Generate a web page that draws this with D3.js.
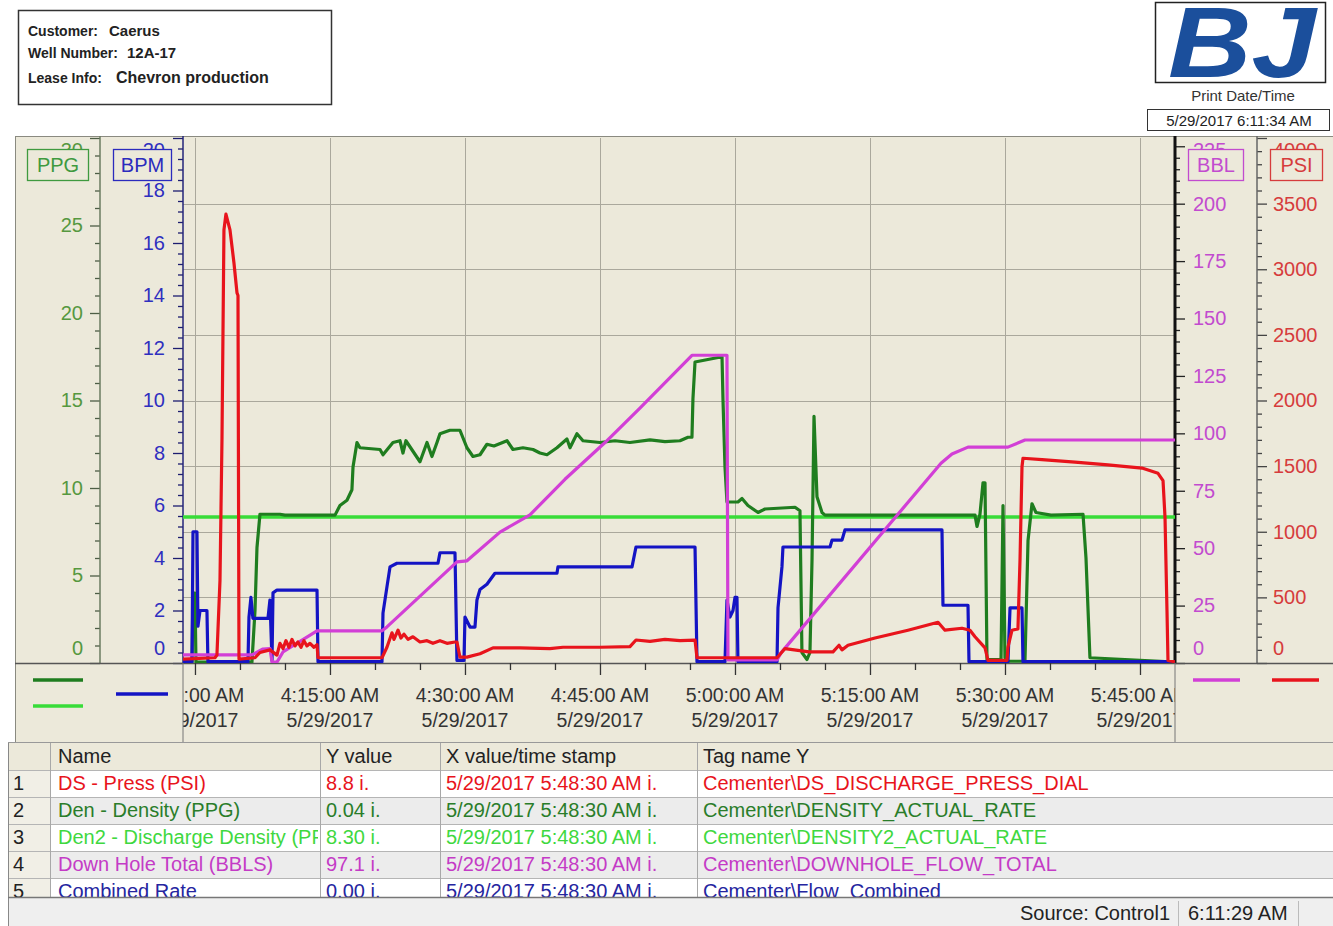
<!DOCTYPE html>
<html lang="en">
<head>
<meta charset="UTF-8">
<title>Cementing job chart - Caerus 12A-17</title>
<script src="https://d3js.org/d3.v7.min.js"></script>
<style>
  body { margin: 0; background: #fff; }
  svg text { font-family: "Liberation Sans", Arial, sans-serif; }
</style>
</head>
<body>
<div id="chart"></div>
<script>
// header info
var infoLabels = ["Customer:", "Well Number:", "Lease Info:"];
var infoValues = ["Caerus", "12A-17", "Chevron production"];
var printStamp = "5/29/2017 6:11:34 AM";

// every series point is [minutes after 4:00:00 AM on 5/29/2017, value]
var den2Pts = [[-1.33, 8.35], [108.89, 8.35]];

var denPts = [[-1.33,0.05],[-0.33,0.05],[-0.22,4.0],[0,4.0],[0.11,0.05],[6.33,0.05],[6.67,3.0],[6.89,6.6],[7.22,8.5],
  [9.44,8.5],[10.0,8.45],[15.56,8.45],[16.11,9.0],[16.89,9.3],[17.44,9.9],[17.56,11.2],[18.0,12.6],[18.33,12.3],
  [20.56,12.2],[20.89,11.9],[22.0,12.6],[22.78,12.7],[23.11,12.0],[23.44,12.7],[24.22,12.1],[25.0,11.5],[25.78,12.6],
  [26.33,11.8],[26.89,12.6],[27.22,13.1],[28.33,13.3],[29.44,13.3],[30.22,12.3],[30.89,11.8],[31.67,11.9],[32.44,12.5],
  [33.22,12.4],[34.67,12.7],[35.33,12.2],[36.44,12.3],[37.56,12.2],[38.33,12.0],[39.11,11.9],[40.22,12.3],[41.33,12.8],
  [41.67,12.3],[42.44,13.1],[43.11,12.7],[45.0,12.6],[46.67,12.7],[48.33,12.6],[50.56,12.75],[52.22,12.65],[53.89,12.7],
  [54.78,12.9],[55.22,12.9],[55.33,15.1],[55.56,17.2],[58.56,17.5],[58.67,15.0],[58.89,11.2],[59.11,9.2],[60.33,9.2],
  [60.78,9.4],[61.44,9.0],[62.56,8.6],[63.33,8.8],[66.67,8.9],[67.22,8.7],[67.44,0.6],[68.0,0.2],[68.33,0.6],[68.56,5.9],
  [68.78,14.1],[69.11,9.5],[69.67,8.6],[70.0,8.45],[86.67,8.45],[86.89,7.8],[87.22,8.5],[87.56,10.3],[87.78,10.3],
  [88.0,0.2],[89.56,0.2],[89.78,9.0],[90.0,0.3],[90.33,0.1],[92.22,0.1],[92.56,7.0],[93.0,9.1],[93.44,8.6],[95.11,8.45],
  [98.67,8.5],[99.0,6.0],[99.44,0.3],[108.89,0.05]];

var ratePts = [[-1.33,0.05],[-0.33,0.05],[-0.22,5.0],[0.22,5.0],[0.33,1.4],[0.56,2.0],[1.33,2.0],[1.44,0.05],[5.89,0.05],
  [6.0,1.75],[6.22,2.5],[6.44,1.7],[8.11,1.7],[8.33,2.4],[8.56,0.1],[8.67,2.67],[9.11,2.78],[13.56,2.78],[13.67,0.05],
  [20.78,0.05],[20.89,1.9],[21.33,2.9],[21.67,3.66],[22.44,3.8],[27.0,3.8],[27.22,4.2],[28.89,4.2],[29.11,0.1],[29.89,0.1],
  [30.0,1.75],[30.56,1.37],[31.11,1.37],[31.33,2.4],[31.67,2.8],[32.44,3.0],[32.78,3.16],[33.33,3.42],[40.22,3.42],
  [40.33,3.66],[48.56,3.66],[49.0,4.42],[55.56,4.42],[55.78,0.05],[58.89,0.05],[59.11,2.4],[59.44,1.75],[59.78,2.0],
  [60.0,2.5],[60.22,2.5],[60.33,0.05],[64.67,0.05],[64.78,2.1],[65.22,3.66],[65.33,4.42],[70.56,4.42],[70.78,4.68],
  [71.89,4.68],[72.22,5.07],[83.0,5.07],[83.11,2.2],[85.89,2.2],[86.0,0.05],[90.33,0.05],[90.56,2.1],[91.89,2.1],
  [92.0,0.05],[108.89,0.05]];

var totalPts = [[-1.33,3.5],[6.33,3.5],[7.56,6.1],[8.33,6.3],[8.56,0.4],[9.11,0.4],[9.78,4.8],[13.56,14.0],[20.78,14.0],
  [21.33,15.7],[29.11,44.0],[30.22,44.5],[33.89,57],[37.22,64.5],[41.11,80],[45.56,96],[49.44,111],[55.22,134],
  [59.11,134],[59.22,1.3],[64.67,1.3],[65.11,4.4],[82.89,87],[84.11,91],[85.89,94],[90.33,94],[92.22,97.1],[108.89,97.1]];

var pressPts = [[-1.33,30],[2.22,40],[2.44,60],[2.78,630],[3.0,1700],[3.22,3300],[3.44,3420],[3.89,3300],[4.33,3050],
  [4.67,2820],[4.78,2800],[4.89,30],[6.67,40],[7.22,80],[8.33,100],[9.11,60],[9.44,150],[9.78,110],[10.11,170],
  [10.44,120],[10.78,180],[11.11,130],[11.44,160],[11.78,120],[12.11,170],[12.44,130],[12.78,150],[13.22,120],
  [13.56,140],[13.67,40],[20.78,40],[21.33,120],[21.89,230],[22.11,180],[22.56,250],[22.89,190],[23.22,220],
  [23.67,180],[24.22,200],[25.0,160],[25.78,170],[26.44,150],[27.22,170],[28.0,150],[28.89,160],[29.11,160],
  [29.44,45],[30.22,45],[31.67,70],[33.11,115],[36.11,115],[39.44,110],[40.89,120],[45.0,120],[48.33,125],[49.0,175],
  [50.56,165],[52.22,180],[53.89,170],[55.56,175],[55.78,40],[64.67,40],[65.56,110],[68.22,85],[70.89,85],[71.56,135],
  [71.89,100],[72.56,135],[75.56,190],[79.22,250],[82.56,310],[83.33,250],[85.22,265],[86.11,250],[86.67,200],
  [87.78,115],[88.11,20],[90.22,20],[90.33,120],[90.78,250],[91.44,260],[91.67,785],[91.89,1495],[92.0,1560],
  [94.11,1550],[97.78,1530],[101.44,1510],[105.22,1485],[107.0,1445],[107.56,1390],[107.78,1110],[108.0,400],
  [108.11,20],[108.89,8.8]];

// data table under the chart
var rowNames = ["DS - Press (PSI)", "Den - Density (PPG)", "Den2 - Discharge Density (PPG)", "Down Hole Total (BBLS)", "Combined Rate"];
var rowYValues = ["8.8 i.", "0.04 i.", "8.30 i.", "97.1 i.", "0.00 i."];
var rowStamps = ["5/29/2017 5:48:30 AM i.", "5/29/2017 5:48:30 AM i.", "5/29/2017 5:48:30 AM i.", "5/29/2017 5:48:30 AM i.", "5/29/2017 5:48:30 AM i."];
var rowTags = ["Cementer\\DS_DISCHARGE_PRESS_DIAL", "Cementer\\DENSITY_ACTUAL_RATE", "Cementer\\DENSITY2_ACTUAL_RATE", "Cementer\\DOWNHOLE_FLOW_TOTAL", "Cementer\\Flow_Combined"];
var tableHeaders = ["", "Name", "Y value", "X value/time stamp", "Tag name Y"];
var statusTexts = ["Source: Control1", "6:11:29 AM"];

// colours
var cPress = "#e8141c", cDen = "#1f7d1f", cDen2 = "#38dc38", cTotal = "#d23fd6", cRate = "#1414c4";
var bg = "#ECE9DA";

var W = 1333, H = 926;
var pTop = 138, pBottom = 663, pLeft = 183, pRight = 1175;

var svg = d3.select("#chart").append("svg")
    .attr("width", W).attr("height", H).style("display", "block");
svg.append("rect").attr("width", W).attr("height", H).attr("fill", "#fff");

var defs = svg.append("defs");
function clip(id, x, y, w, h) {
    defs.append("clipPath").attr("id", id).append("rect")
        .attr("x", x).attr("y", y).attr("width", w).attr("height", h);
}
clip("plotClip", pLeft, 136, pRight - pLeft, pBottom - 136);
clip("xLabClip", pLeft, pBottom, pRight - pLeft, 80);

// ---- header box
svg.append("rect").attr("x", 18.5).attr("y", 10.5).attr("width", 313).attr("height", 94)
    .attr("fill", "#fff").attr("stroke", "#333").attr("stroke-width", 1.5);
infoLabels.forEach(function (lab, i) {
    var yb = [36, 58, 83][i];
    var t = svg.append("text").attr("x", 28).attr("y", yb)
        .style("font-size", "14px").style("font-weight", "bold").attr("fill", "#222").text(lab);
    var w = t.node().getComputedTextLength();
    svg.append("text").attr("x", 28 + w + [11, 9, 14][i]).attr("y", yb)
        .style("font-size", i == 2 ? "16px" : "15px").style("font-weight", "bold").attr("fill", "#222")
        .text(infoValues[i]);
});

// ---- logo and print stamp
svg.append("rect").attr("x", 1155.5).attr("y", 2.5).attr("width", 170).attr("height", 80)
    .attr("fill", "#fff").attr("stroke", "#222").attr("stroke-width", 1.5);
svg.append("text").attr("x", 1168).attr("y", 77).attr("textLength", 148).attr("lengthAdjust", "spacingAndGlyphs")
    .style("font-size", "100px").style("font-weight", "bold").style("font-style", "italic")
    .attr("fill", "#1b4f9c").text("BJ");
svg.append("text").attr("x", 1243).attr("y", 101).attr("text-anchor", "middle")
    .style("font-size", "15px").attr("fill", "#333").text("Print Date/Time");
svg.append("rect").attr("x", 1147.5).attr("y", 109.5).attr("width", 182).attr("height", 21)
    .attr("fill", "#fff").attr("stroke", "#333");
svg.append("text").attr("x", 1239).attr("y", 126).attr("text-anchor", "middle")
    .style("font-size", "15px").attr("fill", "#222").text(printStamp);

// ---- chart panel
svg.append("rect").attr("x", 15).attr("y", 136).attr("width", W - 15).attr("height", 742 - 136).attr("fill", bg);
svg.append("line").attr("x1", 15.5).attr("x2", 15.5).attr("y1", 136).attr("y2", 742).attr("stroke", "#8a8a80");
svg.append("line").attr("x1", 15).attr("x2", W).attr("y1", 136.5).attr("y2", 136.5).attr("stroke", "#8a8a80");

// scales
var base = new Date(2017, 4, 29, 4, 0, 0);
function T(m) { return new Date(+base + m * 60000); }
var x = d3.scaleTime().domain([T(-1.33), T(108.89)]).range([pLeft, pRight]);
var yPPG = d3.scaleLinear().domain([0, 30]).range([pBottom, pTop]);
var yBPM = d3.scaleLinear().domain([0, 20]).range([pBottom, pTop]);
var yBBL = d3.scaleLinear().domain([0, 228.6]).range([pBottom, pTop]);
var yPSI = d3.scaleLinear().domain([0, 4000]).range([pBottom, pTop]);

var majorTimes = d3.timeMinute.every(15).range(x.domain()[0], x.domain()[1]);
var minorTimes = d3.timeMinute.every(5).range(x.domain()[0], x.domain()[1])
    .filter(function (d) { return d.getMinutes() % 15 != 0; });

// grid
var grid = svg.append("g").attr("stroke", "#aaa89c").attr("stroke-width", 1);
grid.selectAll(".gh").data(d3.range(500, 4000, 500)).join("line")
    .attr("x1", pLeft).attr("x2", pRight)
    .attr("y1", function (d) { return Math.round(yPSI(d)) + 0.5; })
    .attr("y2", function (d) { return Math.round(yPSI(d)) + 0.5; });
grid.selectAll(".gv").data(majorTimes).join("line")
    .attr("x1", function (d) { return Math.round(x(d)) + 0.5; })
    .attr("x2", function (d) { return Math.round(x(d)) + 0.5; })
    .attr("y1", pTop).attr("y2", pBottom);

// y axes
function minorVals(max, step, majorStep) {
    return d3.range(0, max + 1e-9, step).filter(function (v) {
        var r = v / majorStep; return Math.abs(r - Math.round(r)) > 1e-6;
    });
}
function yAxis(scale, xPos, isLeft, majors, minors, col, tickCol, lineCol, lineW, pad) {
    var gen = isLeft ? d3.axisLeft : d3.axisRight;
    var g = svg.append("g").attr("transform", "translate(" + xPos + ",0)");
    g.call(gen(scale).tickValues(minors).tickSize(5).tickFormat("").tickSizeOuter(0));
    g.select(".domain").remove();
    var gm = svg.append("g").attr("transform", "translate(" + xPos + ",0)");
    gm.call(gen(scale).tickValues(majors).tickSize(10).tickPadding(pad).tickSizeOuter(0).tickFormat(d3.format("d")));
    gm.select(".domain").remove();
    gm.selectAll("text").style("font-size", "20px").attr("fill", col);
    gm.selectAll(".tick").each(function (d) {
        var ty = scale(d), cy = Math.max(150, Math.min(648, ty));
        d3.select(this).select("text").attr("y", cy - ty);
    });
    g.selectAll("line").attr("stroke", tickCol).attr("stroke-width", 1.3);
    gm.selectAll("line").attr("stroke", tickCol).attr("stroke-width", 1.3);
    svg.append("line").attr("x1", xPos).attr("x2", xPos).attr("y1", 136).attr("y2", pBottom)
        .attr("stroke", lineCol).attr("stroke-width", lineW);
}
yAxis(yPPG, 100, true, d3.range(0, 31, 5), minorVals(30, 1, 5), "#56983f", "#4e5e46", "#6b7b60", 1.5, 7);
yAxis(yBPM, 183, true, d3.range(0, 21, 2), minorVals(20, 0.4, 2), "#2f2fbf", "#1d1d70", "#25257a", 1.5, 8);
yAxis(yBBL, 1175, false, d3.range(0, 226, 25), minorVals(225, 5, 25), "#c24bcf", "#222", "#111", 3, 8);
yAxis(yPSI, 1257, false, d3.range(0, 4001, 500), minorVals(4000, 100, 500), "#d63c3c", "#444", "#666", 1.5, 6);

// unit boxes
var unitBoxes = [["PPG", 27, 61, "#3f9a3f"], ["BPM", 113, 58, "#2b2bbd"], ["BBL", 1188, 55, "#c24bcf"], ["PSI", 1270, 52, "#d63c3c"]];
unitBoxes.forEach(function (b) {
    svg.append("rect").attr("x", b[1] + 0.5).attr("y", 149.5).attr("width", b[2]).attr("height", 31)
        .attr("fill", bg).attr("stroke", b[3]).attr("stroke-width", 1.3);
    svg.append("text").attr("x", b[1] + b[2] / 2 + 0.5).attr("y", 172).attr("text-anchor", "middle")
        .style("font-size", "20px").attr("fill", b[3]).text(b[0]);
});

// x axis
svg.append("line").attr("x1", 15).attr("x2", W).attr("y1", pBottom + 0.5).attr("y2", pBottom + 0.5)
    .attr("stroke", "#555").attr("stroke-width", 1.3);
var gx = svg.append("g").attr("transform", "translate(0," + pBottom + ")");
gx.call(d3.axisBottom(x).tickValues(minorTimes).tickSize(7).tickFormat("").tickSizeOuter(0));
gx.select(".domain").remove();
var gx2 = svg.append("g").attr("transform", "translate(0," + pBottom + ")");
gx2.call(d3.axisBottom(x).tickValues(majorTimes).tickSize(12).tickFormat("").tickSizeOuter(0));
gx2.select(".domain").remove();
gx.selectAll("line").attr("stroke", "#333").attr("stroke-width", 1.3);
gx2.selectAll("line").attr("stroke", "#333").attr("stroke-width", 1.3);

var fTime = d3.timeFormat("%-I:%M:%S %p"), fDate = d3.timeFormat("%-m/%-d/%Y");
var xl = svg.append("g").attr("clip-path", "url(#xLabClip)")
    .selectAll("text").data(majorTimes).join("text")
    .attr("text-anchor", "middle").style("font-size", "19.5px").attr("fill", "#333");
xl.append("tspan").attr("x", function (d) { return x(d); }).attr("y", 702).text(fTime);
xl.append("tspan").attr("x", function (d) { return x(d); }).attr("y", 727).text(fDate);

svg.append("line").attr("x1", pLeft).attr("x2", pLeft).attr("y1", pBottom).attr("y2", 742).attr("stroke", "#777");
svg.append("line").attr("x1", pRight).attr("x2", pRight).attr("y1", pBottom).attr("y2", 742).attr("stroke", "#777");

// series
var plot = svg.append("g").attr("clip-path", "url(#plotClip)");
function drawSeries(pts, scale, col, w) {
    var line = d3.line().x(function (d) { return x(T(d[0])); }).y(function (d) { return scale(d[1]); });
    plot.append("path").datum(pts).attr("d", line).attr("fill", "none")
        .attr("stroke", col).attr("stroke-width", w).attr("stroke-linejoin", "round");
}
drawSeries(den2Pts, yPPG, cDen2, 3.5);
drawSeries(denPts, yPPG, cDen, 3.2);
drawSeries(ratePts, yBPM, cRate, 3.2);
drawSeries(totalPts, yBBL, cTotal, 3.2);
drawSeries(pressPts, yPSI, cPress, 3.2);

// legend swatches
var swatches = [[33, 83, 680, cDen], [33, 83, 706, cDen2], [116, 168, 694, cRate], [1193, 1240, 680, cTotal], [1272, 1319, 680, cPress]];
svg.selectAll(".sw").data(swatches).join("line")
    .attr("x1", function (d) { return d[0]; }).attr("x2", function (d) { return d[1]; })
    .attr("y1", function (d) { return d[2]; }).attr("y2", function (d) { return d[2]; })
    .attr("stroke", function (d) { return d[3]; }).attr("stroke-width", 3.5);

// ---- table
var cols = [8, 50, 320, 440, 697, W];
var rowColors = [cPress, "#2a7d2a", "#3fd83f", "#c43bc6", "#25259f"];
var tTop = 742, headH = 28, rowH = 27, tBottom = 897;
clip("tableClip", 8, tTop, W - 8, tBottom - tTop);
cols.slice(0, 5).forEach(function (c, i) { clip("colClip" + i, c, tTop, cols[i + 1] - c - 2, tBottom - tTop); });

var tbl = svg.append("g").attr("clip-path", "url(#tableClip)");
tbl.append("rect").attr("x", 8).attr("y", tTop).attr("width", W - 8).attr("height", headH).attr("fill", bg);
rowNames.forEach(function (n, i) {
    var y0 = tTop + headH + i * rowH;
    tbl.append("rect").attr("x", 8).attr("y", y0).attr("width", W - 8).attr("height", rowH)
        .attr("fill", i % 2 ? "#ececec" : "#fff");
    tbl.append("rect").attr("x", 8).attr("y", y0).attr("width", 42).attr("height", rowH).attr("fill", "#f1efe6");
    tbl.append("line").attr("x1", 8).attr("x2", W).attr("y1", y0 + 0.5).attr("y2", y0 + 0.5).attr("stroke", "#b5b5b5");
});
cols.slice(1, 5).forEach(function (c) {
    tbl.append("line").attr("x1", c + 0.5).attr("x2", c + 0.5).attr("y1", tTop).attr("y2", tBottom).attr("stroke", "#a8a8a8");
});
tableHeaders.forEach(function (h, j) {
    tbl.append("text").attr("x", cols[j] + (j == 1 ? 8 : 6)).attr("y", tTop + 21)
        .style("font-size", "20px").attr("fill", "#222").text(h);
});
rowNames.forEach(function (n, i) {
    var yb = tTop + headH + i * rowH + 20;
    var cells = [String(i + 1), n, rowYValues[i], rowStamps[i], rowTags[i]];
    cells.forEach(function (txt, j) {
        tbl.append("text").attr("clip-path", "url(#colClip" + j + ")")
            .attr("x", cols[j] + (j == 0 ? 5 : j == 1 ? 8 : 6)).attr("y", yb)
            .style("font-size", "20px").attr("fill", j == 0 ? "#222" : rowColors[i]).text(txt);
    });
});
svg.append("line").attr("x1", 8.5).attr("x2", 8.5).attr("y1", tTop).attr("y2", H).attr("stroke", "#888");
svg.append("line").attr("x1", 8).attr("x2", W).attr("y1", tTop + 0.5).attr("y2", tTop + 0.5).attr("stroke", "#999");

// status bar
svg.append("rect").attr("x", 9).attr("y", tBottom).attr("width", W - 9).attr("height", H - tBottom).attr("fill", "#efefef");
svg.append("line").attr("x1", 8).attr("x2", W).attr("y1", tBottom + 0.5).attr("y2", tBottom + 0.5).attr("stroke", "#777").attr("stroke-width", 1.5);
svg.append("text").attr("x", 1170).attr("y", 920).attr("text-anchor", "end").style("font-size", "20px").attr("fill", "#222").text(statusTexts[0]);
svg.append("text").attr("x", 1188).attr("y", 920).style("font-size", "20px").attr("fill", "#222").text(statusTexts[1]);
[1178, 1298].forEach(function (sx) {
    svg.append("line").attr("x1", sx + 0.5).attr("x2", sx + 0.5).attr("y1", 901).attr("y2", H).attr("stroke", "#bbb");
});
</script>
</body>
</html>
